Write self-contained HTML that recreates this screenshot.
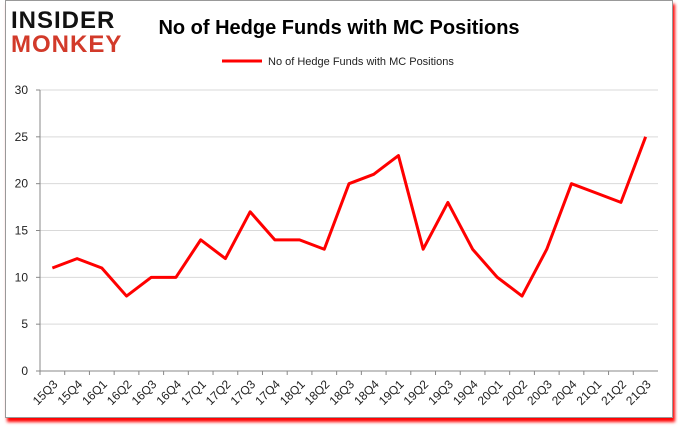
<!DOCTYPE html>
<html><head><meta charset="utf-8"><style>
body{margin:0;background:#fff;font-family:"Liberation Sans",sans-serif}
#frame{position:absolute;left:5px;top:0;width:666px;height:416px;border:1px solid #999;box-shadow:2px 4px 3px #f00;background:#fff}
</style></head><body>
<div id="frame"></div>
<svg id="c" width="678" height="431" style="position:absolute;left:0;top:0">
<text x="11" y="28" font-size="24" font-weight="bold" fill="#111" font-family="Liberation Sans" letter-spacing="1">INSIDER</text>
<text x="11" y="52" font-size="24" font-weight="bold" fill="#d23a2a" font-family="Liberation Sans" letter-spacing="1">MONKEY</text>
<text x="339" y="34" text-anchor="middle" font-size="20" font-weight="bold" fill="#000">No of Hedge Funds with MC Positions</text>
<line x1="222" y1="61" x2="262" y2="61" stroke="#f00" stroke-width="3"/>
<text x="268" y="65" font-size="11" fill="#222">No of Hedge Funds with MC Positions</text>
<g id="g"></g>
</svg>
<script>
const categories=["15Q3","15Q4","16Q1","16Q2","16Q3","16Q4","17Q1","17Q2","17Q3","17Q4","18Q1","18Q2","18Q3","18Q4","19Q1","19Q2","19Q3","19Q4","20Q1","20Q2","20Q3","20Q4","21Q1","21Q2","21Q3"];
const values=[11,12,11,8,10,10,14,12,17,14,14,13,20,21,23,13,18,13,10,8,13,20,19,18,25];
const yTicks=[0,5,10,15,20,25,30];
const L=40,R=658,T=90,B=371,ymax=30;
const bw=(R-L)/categories.length;
const x=i=>L+bw*(i+0.5), y=v=>B-(B-T)*v/ymax;
const g=document.getElementById('g');const NS='http://www.w3.org/2000/svg';
function mk(t,a){const e=document.createElementNS(NS,t);for(const k in a)e.setAttribute(k,a[k]);g.appendChild(e);return e;}
yTicks.forEach(t=>{
 if(t>0){const gl=mk('line',{x1:L,x2:R,y1:y(t),y2:y(t),stroke:'#d9d9d9'});
 
 }
 const tk=mk('line',{x1:L-4,x2:L,y1:y(t),y2:y(t),stroke:'#888'});
 
 
 const tx=mk('text',{x:L-12,y:y(t)+4,'text-anchor':'end','font-size':12,fill:'#222'});tx.textContent=t;
 
 
});
const ya=mk('line',{x1:L,x2:L,y1:T,y2:B,stroke:'#888'});


const xa=mk('line',{x1:L,x2:R,y1:B,y2:B,stroke:'#888'});


categories.forEach((c,i)=>{
 const tk=mk('line',{x1:L+bw*i,x2:L+bw*i,y1:B,y2:B+4,stroke:'#888'});
 
 
 const tx=mk('text',{x:x(i)+6,y:B+14,'text-anchor':'end','font-size':12,fill:'#222',transform:`rotate(-45 ${x(i)+6} ${B+14})`});tx.textContent=c;
 
 
});
const p=mk('polyline',{points:values.map((v,i)=>x(i)+','+y(v)).join(' '),fill:'none',stroke:'#f00','stroke-width':3,'stroke-linejoin':'round'});


</script>
</body></html>
